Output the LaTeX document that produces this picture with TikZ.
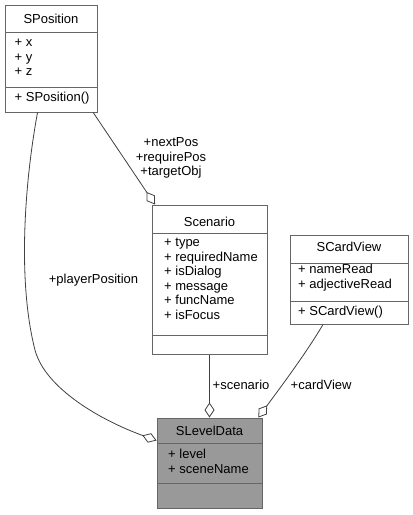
\documentclass[tikz,border=0pt]{standalone}
\usepackage{fontspec}
\setmainfont{Liberation Sans}
\usepackage{xcolor}
\usepackage{tikz}
\usetikzlibrary{positioning, arrows.meta}
\definecolor{boxline}{HTML}{666666}
\definecolor{edgeline}{HTML}{404040}
\definecolor{focusfill}{HTML}{999999}

\begin{document}
\begin{tikzpicture}[
    x=1pt, y=-1pt,
    every node/.style={font=\fontsize{13}{14.5}\selectfont},
    classbox/.style={draw=boxline, line width=1pt, fill=white, inner sep=0pt},
    member/.style={anchor=base west, inner sep=0pt},
    classname/.style={anchor=base, inner sep=0pt},
    rolelabel/.style={inner sep=0pt, align=center},
    assoc/.style={draw=edgeline, line width=0.8pt, -{Diamond[open, length=15pt, width=10pt]}}
]
\fill[white] (0,0) rectangle (413,515);
\useasboundingbox (0,0) rectangle (413,515);

\node[classbox, minimum width=92pt, minimum height=107pt] (spos) at (51,58.5) {};
\draw[boxline, line width=1pt] (5,32) -- (97,32) (5,87) -- (97,87);
\node[classname] (spos-name) at (51,23.5) {SPosition};
\foreach \m [count=\i from 0] in {x,y,z}
    \node[member] (spos-m\i) at (14.5,46.7+14.6*\i) {+ \m};
\node[member] (spos-op) at (14.5,101.5) {+ SPosition()};

\node[classbox, minimum width=115pt, minimum height=149pt] (scen) at (209.5,279.5) {};
\draw[boxline, line width=1pt] (152,233) -- (267,233) (152,335) -- (267,335);
\node[classname] (scen-name) at (209.5,226) {Scenario};
\foreach \m [count=\i from 0] in {type,requiredName,isDialog,message,funcName,isFocus}
    \node[member] (scen-m\i) at (164,246.5+14.5*\i) {+ \m};

\node[classbox, minimum width=118pt, minimum height=89pt] (scv) at (349,279.5) {};
\draw[boxline, line width=1pt] (290,263) -- (408,263) (290,301) -- (408,301);
\node[classname] (scv-name) at (349,251.5) {SCardView};
\foreach \m [count=\i from 0] in {nameRead,adjectiveRead}
    \node[member] (scv-m\i) at (298,273.5+14.5*\i) {+ \m};
\node[member] (scv-op) at (298,315) {+ SCardView()};

\node[classbox, fill=focusfill, minimum width=105pt, minimum height=90pt] (slev) at (209.5,463) {};
\draw[boxline, line width=1pt] (157,443) -- (262,443) (157,483) -- (262,483);
\node[classname] (slev-name) at (209.5,435) {SLevelData};
\foreach \m [count=\i from 0] in {level,sceneName}
    \node[member] (slev-m\i) at (168,458.5+14.5*\i) {+ \m};

\draw[assoc] (spos.-52) -- (scen.126);
\draw[assoc] (spos.-104) .. controls (25,180) and (17,280) .. (35,350)
    .. controls (45,388) and (100,420) .. (slev.157);
\draw[assoc] (scen.south) -- (slev.north);
\draw[assoc] (scv.-120) .. controls (305,355) and (277,392) .. (slev.43);

\node[rolelabel, anchor=north] (lbl-pos) at (171,137.5) {+nextPos\\+requirePos\\+targetObj};
\node[rolelabel, anchor=base] (lbl-player) at (93.5,283) {+playerPosition};
\node[rolelabel, anchor=base west] (lbl-scen) at (212.5,389) {+scenario};
\node[rolelabel, anchor=base west] (lbl-card) at (290.5,389) {+cardView};
\end{tikzpicture}
\end{document}
